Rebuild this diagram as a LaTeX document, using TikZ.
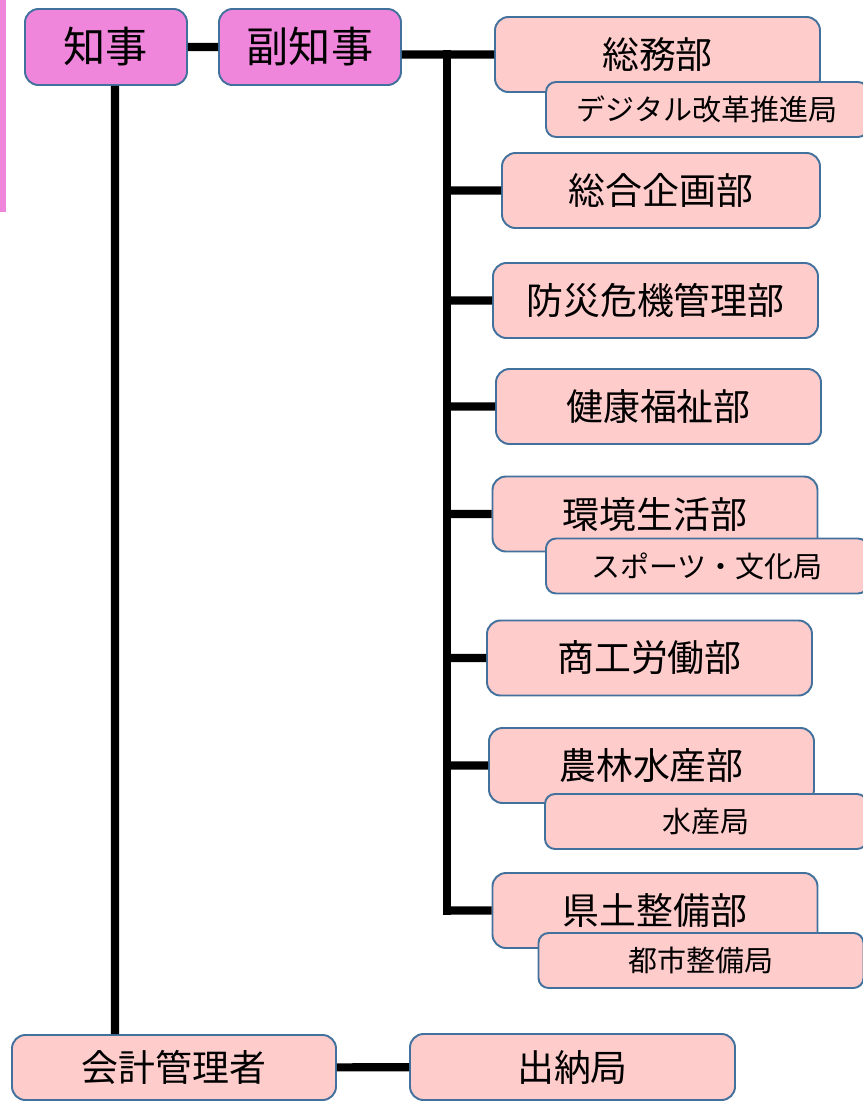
\documentclass[tikz,border=0pt]{standalone}
\usepackage{fontspec}
\setmainfont{Noto Sans CJK JP}
\definecolor{topfill}{HTML}{F086DC}
\definecolor{deptfill}{HTML}{FFCCCC}
\definecolor{boxline}{HTML}{41719C}

\begin{document}
\begin{tikzpicture}[
    box/.style={draw=boxline, line width=1.1pt, rounded corners=0.27cm, inner sep=0pt, text=black},
    top/.style={box, fill=topfill, minimum height=1.52cm, font=\fontsize{24}{28}\selectfont},
    dept/.style={box, fill=deptfill, minimum width=6.5cm, minimum height=1.5cm, font=\fontsize{21}{25}\selectfont},
    sub/.style={box, fill=deptfill, minimum width=6.44cm, minimum height=1.1cm, rounded corners=0.2cm, font=\fontsize{16.5}{20}\selectfont},
    link/.style={line width=4.6pt}
  ]
    \useasboundingbox (0, 0) rectangle (17.26, -22.04);
    \fill[topfill] (0, 0) rectangle (0.12, -4.24);
      \node[top, minimum width=3.24cm] (Gov) at (2.12, -0.94) {知事};
      \node[top, minimum width=3.64cm] (Vice) at (6.2, -0.94) {副知事};
      \node[dept] (D1) at (13.15, -1.09) {総務部};
      \node[sub] (S1) at (14.14, -2.19) {デジタル改革推進局};
      \node[dept, minimum width=6.36cm] (D2) at (13.22, -3.81) {総合企画部};
      \node[dept] (D3) at (13.11, -6.01) {防災危機管理部};
      \node[dept] (D4) at (13.17, -8.13) {健康福祉部};
      \node[dept] (D5) at (13.1, -10.28) {環境生活部};
      \node[sub] (S2) at (14.14, -11.32) {スポーツ・文化局};
      \node[dept] (D6) at (12.99, -13.16) {商工労働部};
      \node[dept] (D7) at (13.03, -15.31) {農林水産部};
      \node[sub] (S3) at (14.12, -16.43) {水産局};
      \node[dept] (D8) at (13.1, -18.21) {県土整備部};
      \node[sub, minimum width=6.5cm] (S4) at (14.02, -19.21) {都市整備局};
      \node[dept, minimum width=6.48cm, minimum height=1.3cm] (Acc) at (3.48, -21.35) {会計管理者};
      \node[dept, minimum height=1.32cm] (Cash) at (11.45, -21.34) {出納局};
      \coordinate (T) at (8.94, 0);
      \draw[link] (Gov) -- (Vice)
        (Vice.east |- D1.west) -- (D1.west)
        (D2.west -| T) -- (D2.west)
        (D3.west -| T) -- (D3.west)
        (D4.west -| T) -- (D4.west)
        (D5.west -| T) -- (D5.west)
        (D6.west -| T) -- (D6.west)
        (D7.west -| T) -- (D7.west)
        (D8.west -| T) -- (D8.west)
        ([xshift=0.18cm]Gov.south) -- ([xshift=0.18cm]Gov.south |- Acc.north)
        (Acc) -- (Cash);
      \draw[link, line cap=rect] (D1.west -| T) -- (D8.west -| T);
\end{tikzpicture}
\end{document}
